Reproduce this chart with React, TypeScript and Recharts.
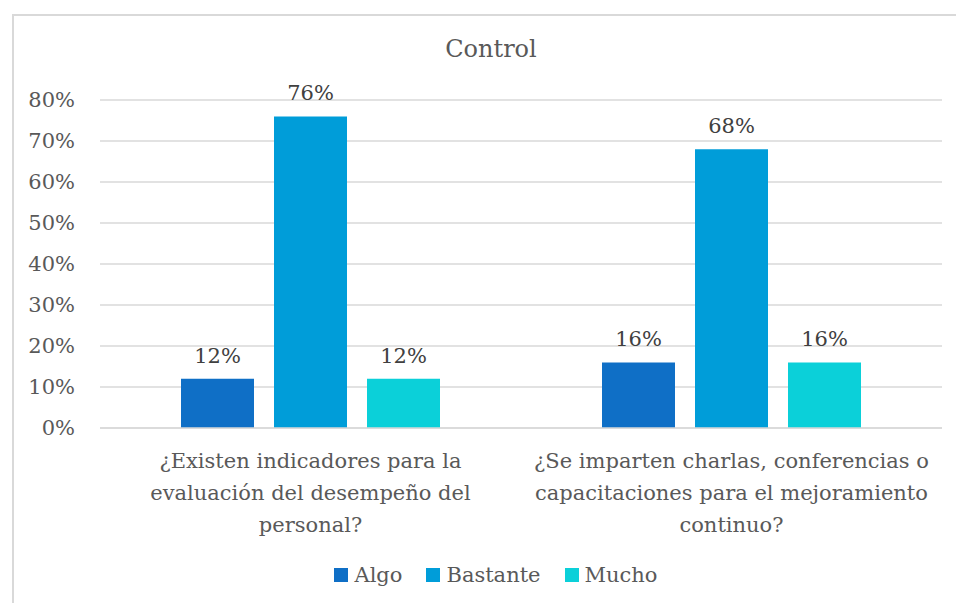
import { BarChart, Bar, XAxis, YAxis, CartesianGrid, Legend, LabelList } from "recharts";

const categories = [
  "¿Existen indicadores para la\nevaluación del desempeño del\npersonal?",
  "¿Se imparten charlas, conferencias o\ncapacitaciones para el mejoramiento\ncontinuo?",
];
const algo = [12, 16];
const bastante = [76, 68];
const mucho = [12, 16];
const yTicks = [0, 10, 20, 30, 40, 50, 60, 70, 80];

const series = [
  { key: "algo", name: "Algo", color: "#0F6FC6" },
  { key: "bastante", name: "Bastante", color: "#009DD9" },
  { key: "mucho", name: "Mucho", color: "#0BD0D9" },
];

const data = categories.map((c, i) => ({
  category: c,
  algo: algo[i],
  bastante: bastante[i],
  mucho: mucho[i],
}));

const FONT = "DejaVu Serif, serif";
const FS = 21;
const AXIS_TEXT = "#595959";

function CategoryTick(props: any) {
  const { x, y, payload } = props;
  const lines: string[] = String(payload.value).split("\n");
  return (
    <text x={x} y={y} textAnchor="middle" fill={AXIS_TEXT} style={{ fontFamily: FONT }} fontSize={FS}>
      {lines.map((l, i) => (
        <tspan key={i} x={x} dy={i === 0 ? 32 : 32}>
          {l}
        </tspan>
      ))}
    </text>
  );
}

function LegendRow() {
  return (
    <div
      style={{
        height: 40,
        display: "flex",
        justifyContent: "center",
        alignItems: "center",
        paddingLeft: 50,
        fontFamily: FONT,
        fontSize: FS,
        color: AXIS_TEXT,
      }}
    >
      {series.map((s) => (
        <div key={s.key} style={{ display: "flex", alignItems: "center", margin: "0 12px" }}>
          <span style={{ width: 14, height: 14, background: s.color, marginRight: 6, display: "inline-block" }} />
          <span>{s.name}</span>
        </div>
      ))}
    </div>
  );
}

export default function App() {
  return (
    <div style={{ position: "absolute", left: 0, top: 0, width: 956, height: 603, overflow: "hidden", background: "#fff", fontFamily: FONT }}>
      <div
        style={{
          position: "absolute",
          left: 12,
          top: 14,
          width: 980,
          height: 620,
          border: "2px solid #D9D9D9",
          boxSizing: "border-box",
        }}
      />
      <div
        style={{
          position: "absolute",
          left: 0,
          width: 982,
          top: 35,
          textAlign: "center",
          fontSize: 24,
          color: AXIS_TEXT,
        }}
      >
        Control
      </div>
      <div style={{ position: "absolute", left: 0, top: 0 }}>
        <BarChart
          width={956}
          height={603}
          data={data}
          margin={{ top: 100, right: 14, left: 0, bottom: 8 }}
          barSize={73}
          barGap={20}
          style={{ fontFamily: FONT }}
        >
          <CartesianGrid vertical={false} stroke="#D9D9D9" strokeWidth={1.5} />
          <XAxis
            dataKey="category"
            axisLine={{ stroke: "#D9D9D9", strokeWidth: 1.5 }}
            tickLine={false}
            height={127}
            interval={0}
            tick={<CategoryTick />}
          />
          <YAxis
            domain={[0, 80]}
            ticks={yTicks}
            width={100}
            axisLine={false}
            tickLine={false}
            tickMargin={19}
            tickFormatter={(v: number) => `${v}%`}
            tick={{ fill: AXIS_TEXT, fontFamily: FONT, fontSize: FS }}
          />
          <Legend verticalAlign="bottom" content={() => <LegendRow />} />
          {series.map((s) => (
            <Bar key={s.key} dataKey={s.key} name={s.name} fill={s.color} isAnimationActive={false}>
              <LabelList
                dataKey={s.key}
                position="top"
                offset={16}
                formatter={(v: any) => `${v}%`}
                fill="#404040"
                fontFamily={FONT}
                fontSize={FS}
              />
            </Bar>
          ))}
        </BarChart>
      </div>
    </div>
  );
}
